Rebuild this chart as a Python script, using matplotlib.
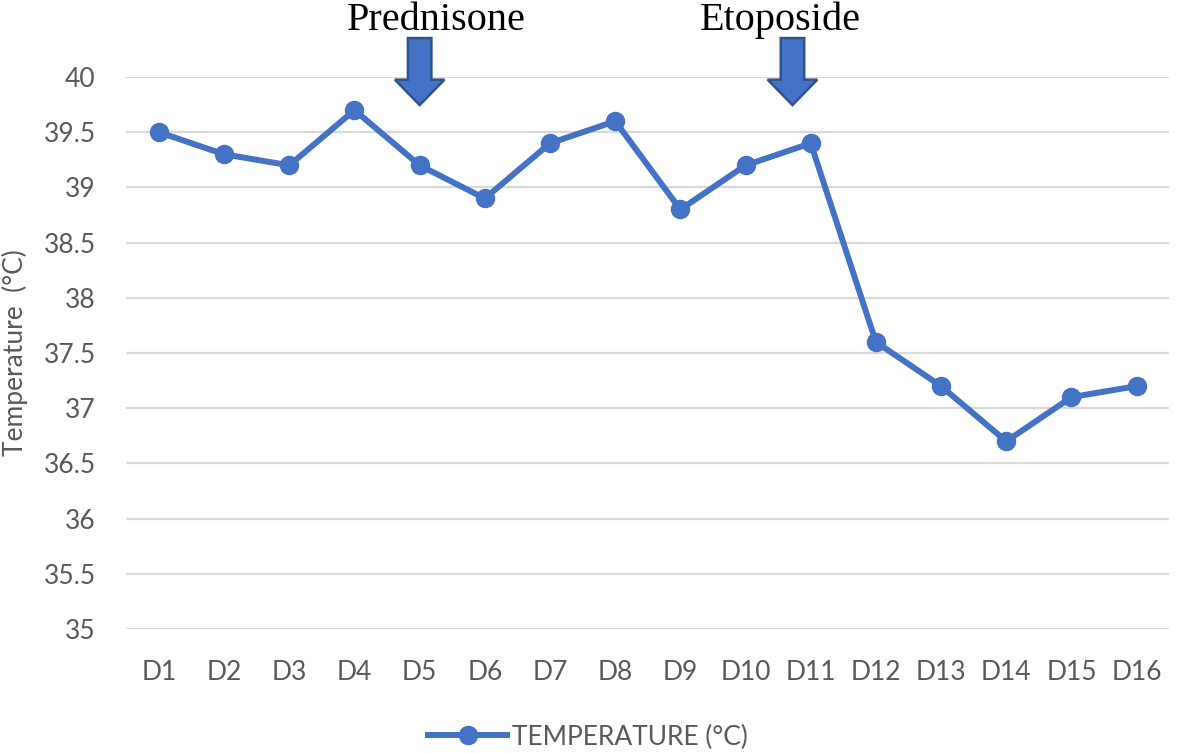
import matplotlib.pyplot as plt
from matplotlib.patches import FancyArrow

days = ["D%d" % i for i in range(1, 17)]
temps = [39.5, 39.3, 39.2, 39.7, 39.2, 38.9, 39.4, 39.6, 38.8, 39.2, 39.4,
         37.6, 37.2, 36.7, 37.1, 37.2]
yticks = [35, 35.5, 36, 36.5, 37, 37.5, 38, 38.5, 39, 39.5, 40]
ytick_labels = ["35", "35.5", "36", "36.5", "37", "37.5", "38", "38.5",
                "39", "39.5", "40"]
drugs = ["Prednisone", "Etoposide"]
arrow_pos = [4.0, 9.72]
label_pos = [4.26, 9.54]

blue = "#4472C4"
gray = "#595959"

fig = plt.figure(figsize=(11.81, 7.53), dpi=100)
ax = fig.add_axes([0.107, 0.1647, 0.883, 0.733])

x = list(range(len(days)))
ax.plot(x, temps, color=blue, lw=4.3, marker="o", ms=13,
        label="TEMPERATURE (°C)", zorder=3)

ax.set_xlim(-0.5, 15.5)
ax.set_ylim(35, 40)
ax.set_yticks(yticks)
ax.set_yticklabels(ytick_labels)
ax.set_xticks(x)
ax.set_xticklabels(days)
ax.grid(axis="y", color="#D9D9D9", lw=1.6)
ax.set_axisbelow(True)
for s in ax.spines.values():
    s.set_visible(False)
ax.tick_params(length=0, labelsize=19, labelcolor=gray)
ax.tick_params(axis="x", pad=22)
ax.tick_params(axis="y", pad=22)
for lab in ax.get_xticklabels() + ax.get_yticklabels():
    lab.set_fontfamily("Lato")
ax.set_ylabel("Temperature  (°C)", fontsize=19, color=gray, family="Lato")
ax.yaxis.set_label_coords(-0.094, 0.5)

# drug annotations: arrow + label
for name, apos, lpos in zip(drugs, arrow_pos, label_pos):
    arr = FancyArrow(apos, 40.353, 0, -0.607, width=0.36, head_width=0.76,
                     head_length=0.23, length_includes_head=True,
                     facecolor=blue, edgecolor="#2F528F", lw=1.8,
                     clip_on=False, zorder=4)
    ax.add_patch(arr)
    ax.text(lpos, 40.43, name, ha="center", va="baseline",
            fontsize=29, family="Liberation Serif", color="black",
            clip_on=False)

fig.legend(loc="center", bbox_to_anchor=(0.498, 0.021), frameon=False,
           prop={"family": "Lato", "size": 19}, labelcolor=gray,
           handlelength=3.0, handletextpad=0.2)

fig.savefig("out.png", dpi=100)
